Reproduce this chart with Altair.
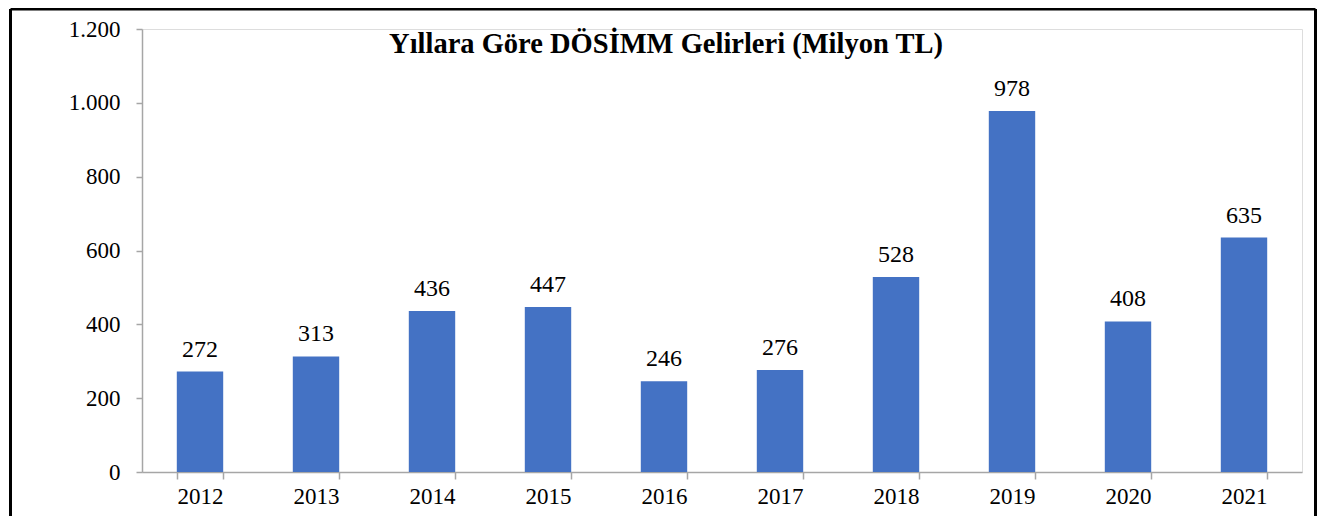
import altair as alt
import pandas as pd

years = ["2012", "2013", "2014", "2015", "2016", "2017", "2018", "2019", "2020", "2021"]
values = [272, 313, 436, 447, 246, 276, 528, 978, 408, 635]
y_ticks = [0, 200, 400, 600, 800, 1000, 1200]
title_text = "Yıllara Göre DÖSİMM Gelirleri (Milyon TL)"

df = pd.DataFrame({"year": years, "value": values})

FONT = "Liberation Serif"
W, H = 1160, 443

x_enc = alt.X(
    "year:N",
    sort=years,
    scale=alt.Scale(paddingInner=0.6, paddingOuter=0.3),
    axis=alt.Axis(
        title=None, labelAngle=0, tickBand="extent", tickSize=7,
        domainColor="#A6A6A6", tickColor="#A6A6A6", domainWidth=1.5, tickWidth=1.5,
        labelFont=FONT, labelFontSize=23, labelColor="black", labelPadding=6,
    ),
)
y_enc = alt.Y(
    "value:Q",
    scale=alt.Scale(domain=[0, 1200], nice=False),
    axis=alt.Axis(
        title=None, values=y_ticks, grid=False, tickSize=6,
        domainColor="#A6A6A6", tickColor="#A6A6A6", domainWidth=1.5, tickWidth=1.5,
        labelFont=FONT, labelFontSize=23, labelColor="black", labelPadding=16,
        labelExpr="replace(format(datum.value, ','), ',', '.')",
    ),
)

base = alt.Chart(df)
bars = base.mark_bar(color="#4472C4").encode(x=x_enc, y=y_enc)
labels = base.mark_text(
    baseline="alphabetic", dy=-15, font=FONT, fontSize=24, color="black"
).encode(x=alt.X("year:N", sort=years), y="value:Q", text="value:Q")

frame_df = pd.DataFrame({"k": [0]})
frame = alt.Chart(frame_df)
title = frame.mark_text(
    align="center", baseline="alphabetic", font=FONT, fontSize=28.5,
    fontWeight="bold", color="black",
).encode(x=alt.value(524), y=alt.value(24), text=alt.value(title_text))
left = frame.mark_rule(color="black", strokeWidth=3).encode(
    x=alt.value(-131.5), y=alt.value(-20), y2=alt.value(487))
top = frame.mark_rule(color="black", strokeWidth=3).encode(
    x=alt.value(-131.5), x2=alt.value(1173.5), y=alt.value(-20))
right = frame.mark_rule(color="black", strokeWidth=3).encode(
    x=alt.value(1173.5), y=alt.value(-20), y2=alt.value(487))

chart = (
    alt.layer(bars, labels, title, left, top, right)
    .properties(
        width=W, height=H,
        autosize=alt.AutoSizeParams(type="none"),
        padding={"left": 134, "top": 21, "right": 15, "bottom": 44},
    )
    .configure_view(stroke=None)
    .configure(background="white")
)

chart.save("out.html", embed_options={"renderer": "svg", "actions": False})
